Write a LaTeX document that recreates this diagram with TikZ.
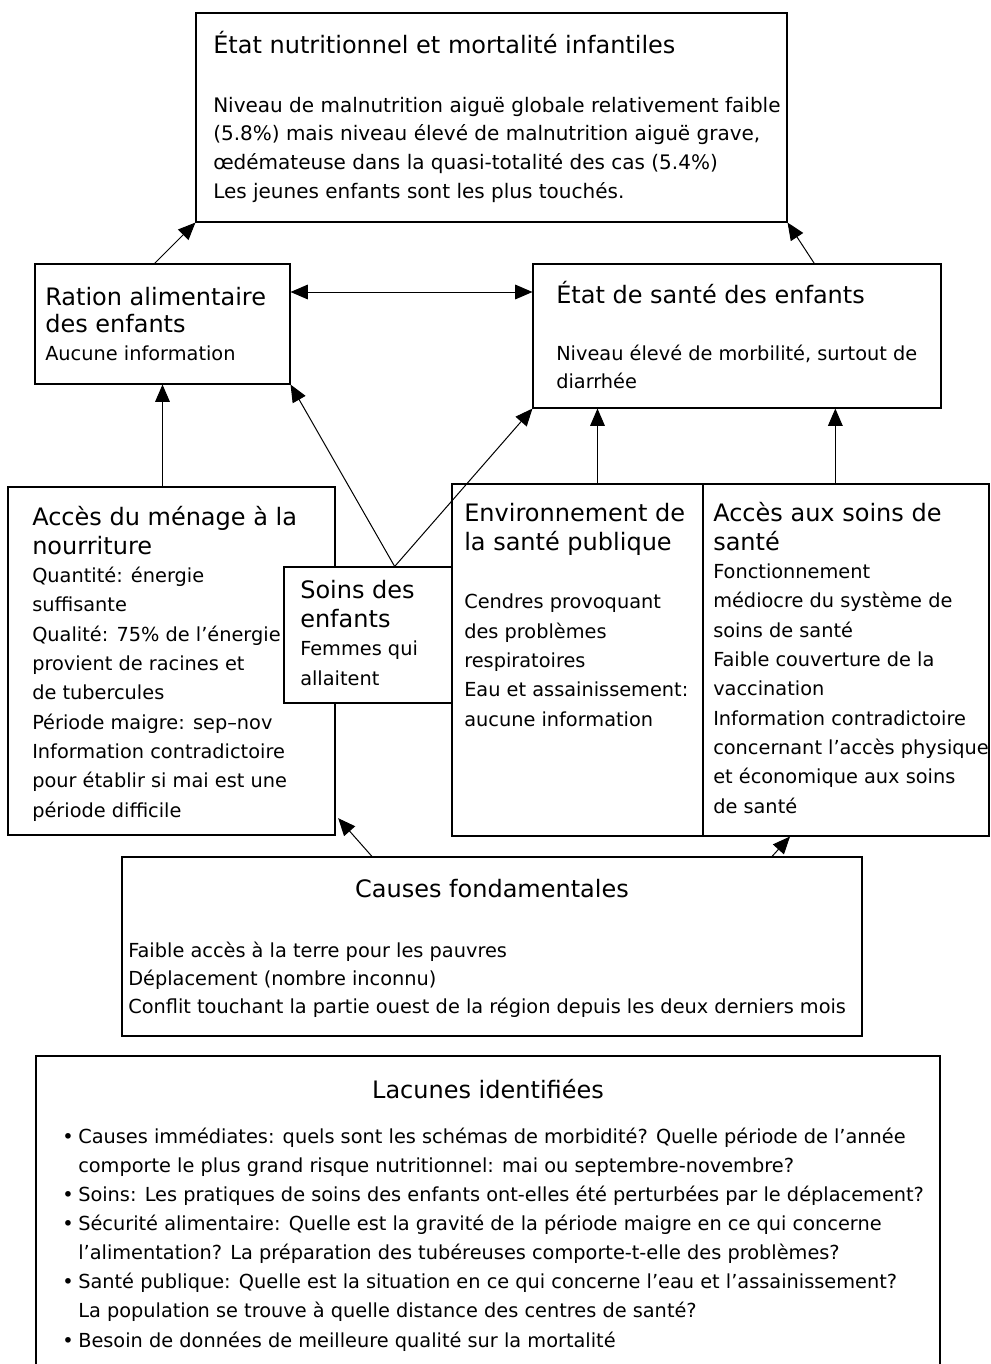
\documentclass[tikz,border=0pt]{standalone}
\usepackage{fontspec}
\setmainfont{DejaVu Sans}
\usetikzlibrary{arrows.meta}

\begin{document}
\begin{tikzpicture}[x=0.75pt, y=-0.75pt]
  \tikzstyle{box} = [rectangle, draw=black, line width=0.8pt, inner sep=0pt]
  \tikzstyle{head} = [anchor=base west, inner sep=0pt, align=left, font=\fontsize{18}{21.75}\selectfont]
  \tikzstyle{body} = [anchor=base west, inner sep=0pt, align=left, font=\fontsize{14.5}{22}\selectfont]
  \tikzstyle{link} = [->, >={Triangle[length=13pt, width=11pt]}, line width=0.75pt]

  \clip (0,0) rectangle (990,1364);

  % boxes
  \node (etat) [box, minimum width=443.25pt, minimum height=156.75pt] at (491.5,117.5) {};
  \node (ration) [box, minimum width=191.25pt, minimum height=90pt] at (162.5,324) {};
  \node (sante) [box, minimum width=306pt, minimum height=108pt] at (737,336) {};
  \node (menage) [box, minimum width=245.25pt, minimum height=261pt] at (171.5,661) {};
  \node (soins) [box, fill=white, minimum width=126pt, minimum height=102pt] at (368,635) {};
  \node (envir) [box, minimum width=188.25pt, minimum height=264pt] at (577.5,660) {};
  \node (accsoins) [box, minimum width=214.5pt, minimum height=264pt] at (846,660) {};
  \node (causes) [box, minimum width=555pt, minimum height=134.25pt] at (492,946.5) {};
  \node (lacunes) [box, minimum width=678pt, minimum height=243pt] at (488,1218) {};

  % texts (placed at the baseline of their last line)
  \node (etathead) [head] at (213,53) {État nutritionnel et mortalité infantiles};
  \node (etatbody) [body, font=\fontsize{15}{21.4}\selectfont] at (213,198) {Niveau de malnutrition aiguë globale relativement faible\\(5.8\%) mais niveau élevé de malnutrition aiguë grave,\\œdémateuse dans la quasi-totalité des cas (5.4\%)\\Les jeunes enfants sont les plus touchés.};
  \node (rationhead) [head, font=\fontsize{18}{20.25}\selectfont] at (45,332) {Ration alimentaire\\des enfants};
  \node (rationbody) [body] at (45,360) {Aucune information};
  \node (santehead) [head] at (556,303) {État de santé des enfants};
  \node (santebody) [body, font=\fontsize{14.5}{21}\selectfont] at (556,388) {Niveau élevé de morbilité, surtout de\\diarrhée};
  \node (menagehead) [head] at (32,554) {Accès du ménage à la\\nourriture};
  \node (menagebody) [body] at (32,817) {Quantité: énergie\\suffisante\\Qualité: 75\% de l’énergie\\provient de racines et\\de tubercules\\Période maigre: sep–nov\\Information contradictoire\\pour établir si mai est une\\période difficile};
  \node (soinshead) [head] at (300,627) {Soins des\\enfants};
  \node (soinsbody) [body] at (300,685) {Femmes qui\\allaitent};
  \node (envirhead) [head] at (464,550) {Environnement de\\la santé publique};
  \node (envirbody) [body] at (464,726) {Cendres provoquant\\des problèmes\\respiratoires\\Eau et assainissement:\\aucune information};
  \node (accsoinshead) [head] at (713,550) {Accès aux soins de\\santé};
  \node (accsoinsbody) [body] at (713,813) {Fonctionnement\\médiocre du système de\\soins de santé\\Faible couverture de la\\vaccination\\Information contradictoire\\concernant l’accès physique\\et économique aux soins\\de santé};
  \node (causeshead) [head, anchor=base] at (492,897) {Causes fondamentales};
  \node (causesbody) [body, font=\fontsize{14.5}{21}\selectfont] at (128,1013) {Faible accès à la terre pour les pauvres\\Déplacement (nombre inconnu)\\Conflit touchant la partie ouest de la région depuis les deux derniers mois};
  \node (lacuneshead) [head, anchor=base] at (488,1098) {Lacunes identifiées};
  \node (lacunesbody) [body, font=\fontsize{14.5}{21.8}\selectfont] at (62,1347) {\makebox[12pt][l]{•}Causes immédiates: quels sont les schémas de morbidité? Quelle période de l’année\\\hspace*{12pt}comporte le plus grand risque nutritionnel: mai ou septembre-novembre?\\\makebox[12pt][l]{•}Soins: Les pratiques de soins des enfants ont-elles été perturbées par le déplacement?\\\makebox[12pt][l]{•}Sécurité alimentaire: Quelle est la gravité de la période maigre en ce qui concerne\\\hspace*{12pt}l’alimentation? La préparation des tubéreuses comporte-t-elle des problèmes?\\\makebox[12pt][l]{•}Santé publique: Quelle est la situation en ce qui concerne l’eau et l’assainissement?\\\hspace*{12pt}La population se trouve à quelle distance des centres de santé?\\\makebox[12pt][l]{•}Besoin de données de meilleure qualité sur la mortalité};

  % connectors
  \coordinate (soinstop) at ([xshift=20pt]soins.north);
  \draw [link] ([xshift=-6pt]ration.north) -- (etat.south west);
  \draw [link] ([xshift=58pt]sante.north) -- (etat.south east);
  \draw [link, <->] ([yshift=24pt]ration.east) -- ([yshift=24pt]ration.east -| sante.west);
  \draw [link] (menage.north -| ration.south) -- (ration.south);
  \draw [link] (soinstop) -- (ration.south east);
  \draw [link] (soinstop) -- (sante.south west);
  \draw [link] ([xshift=15pt]envir.north) -- ([xshift=15pt]envir.north |- sante.south);
  \draw [link] ([xshift=-8pt]accsoins.north) -- ([xshift=-8pt]accsoins.north |- sante.south);
  \draw [link] ([xshift=-90pt]causes.north) -- ([xshift=2pt, yshift=13pt]menage.south east);
  \draw [link] ([xshift=210pt]causes.north) -- ([xshift=-42pt]accsoins.south);
\end{tikzpicture}
\end{document}
